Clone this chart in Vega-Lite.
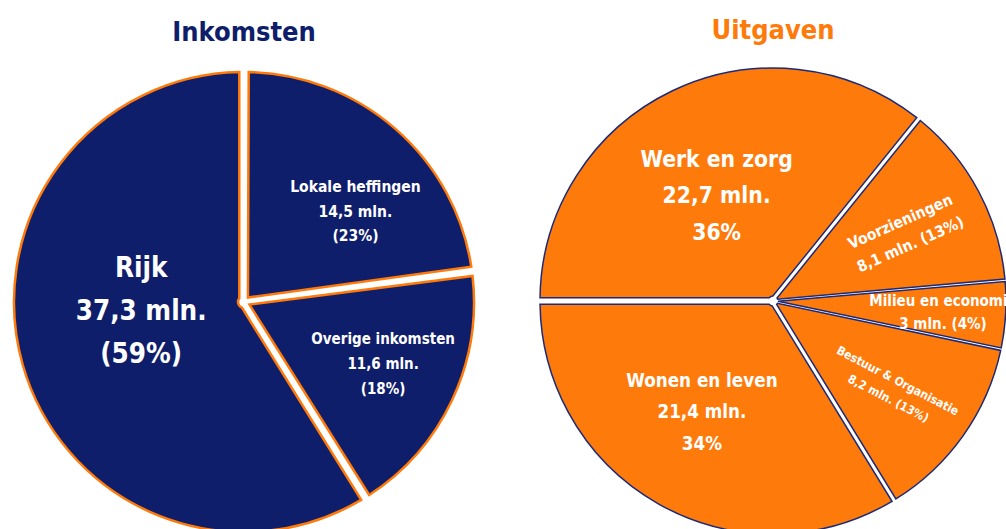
{
  "$schema": "https://vega.github.io/schema/vega-lite/v6.json",
  "padding": {"left": 0, "top": 17, "right": 0, "bottom": 0},
  "background": "white",
  "spacing": 49,
  "config": {
    "view": {"stroke": null},
    "font": "DejaVu Sans Condensed, Liberation Sans Narrow, Liberation Sans, sans-serif",
    "title": {"font": "DejaVu Sans Condensed, Liberation Sans Narrow, Liberation Sans, sans-serif", "fontSize": 27, "fontWeight": "bold", "baseline": "alphabetic", "offset": 20, "anchor": "middle"},
    "text": {"font": "DejaVu Sans Condensed, Liberation Sans Narrow, Liberation Sans, sans-serif", "fontWeight": "bold", "color": "white", "lineBreak": "\n"}
  },
  "datasets": {
    "inkomsten": [
      {"rank": 1, "cat": "Lokale heffingen", "value": 14.5, "label": "Lokale heffingen\n14,5 mln.\n(23%)"},
      {"rank": 2, "cat": "Overige inkomsten", "value": 11.6, "label": "Overige inkomsten\n11,6 mln.\n(18%)"},
      {"rank": 3, "cat": "Rijk", "value": 37.3, "label": "Rijk\n37,3 mln.\n(59%)"}
    ],
    "uitgaven": [
      {"rank": 1, "cat": "Werk en zorg", "value": 22.7, "label": "Werk en zorg\n22,7 mln.\n36%"},
      {"rank": 2, "cat": "Voorzieningen", "value": 8.1, "label": "Voorzieningen\n8,1 mln. (13%)"},
      {"rank": 3, "cat": "Milieu en economie", "value": 3, "label": "Milieu en economie\n3 mln. (4%)"},
      {"rank": 4, "cat": "Bestuur & Organisatie", "value": 8.2, "label": "Bestuur & Organisatie\n8,2 mln. (13%)"},
      {"rank": 5, "cat": "Wonen en leven", "value": 21.4, "label": "Wonen en leven\n21,4 mln.\n34%"}
    ]
  },
  "hconcat": [
    {
      "width": 488,
      "height": 460,
      "title": {"text": "Inkomsten", "color": "#0f1e6a"},
      "data": {"name": "inkomsten"},
      "encoding": {
        "theta": {"field": "value", "type": "quantitative", "stack": true},
        "order": {"field": "rank", "type": "quantitative"}
      },
      "layer": [
        {"mark": {"type": "arc", "radius": 230, "innerRadius": 6, "padAngle": 0.041, "fill": "#0f1e6a", "stroke": "#fe7a0b", "strokeWidth": 2.5}},
        {
          "mark": {"type": "text", "radius": 108, "thetaOffset": 0.588, "fontSize": 27.5, "lineHeight": 43},
          "encoding": {"text": {"field": "label"}, "opacity": {"condition": {"test": "datum.cat === 'Rijk'", "value": 1}, "value": 0}}
        },
        {
          "mark": {"type": "text", "radius": 160, "thetaOffset": 0.052, "fontSize": 15.5, "lineHeight": 24.5},
          "encoding": {"text": {"field": "label"}, "opacity": {"condition": {"test": "datum.cat === 'Lokale heffingen'", "value": 1}, "value": 0}}
        },
        {
          "mark": {"type": "text", "radius": 144, "thetaOffset": -0.18, "fontSize": 15, "lineHeight": 25},
          "encoding": {"text": {"field": "label"}, "opacity": {"condition": {"test": "datum.cat === 'Overige inkomsten'", "value": 1}, "value": 0}}
        }
      ]
    },
    {
      "width": 470,
      "height": 458,
      "title": {"text": "Uitgaven", "color": "#fe7a0b"},
      "data": {"name": "uitgaven"},
      "encoding": {
        "theta": {"field": "value", "type": "quantitative", "stack": true, "scale": {"range": [-1.5708, 4.7124]}},
        "order": {"field": "rank", "type": "quantitative"}
      },
      "layer": [
        {
          "mark": {"type": "arc", "radius": 233, "innerRadius": 5, "padAngle": 0.028, "fill": "#fe7a0b", "stroke": "#1a2a78", "strokeWidth": 1.5},
          "encoding": {"opacity": {"condition": {"test": "datum.cat === 'Werk en zorg' || datum.cat === 'Wonen en leven'", "value": 1}, "value": 0}}
        },
        {
          "mark": {"type": "arc", "radius": 233, "innerRadius": 5, "padAngle": 0.011, "fill": "#fe7a0b", "stroke": "#1a2a78", "strokeWidth": 1.5},
          "encoding": {"opacity": {"condition": {"test": "datum.cat === 'Werk en zorg' || datum.cat === 'Wonen en leven'", "value": 0}, "value": 1}}
        },
        {
          "mark": {"type": "text", "radius": 152, "thetaOffset": 0.066, "fontSize": 22.7, "lineHeight": 36.5},
          "encoding": {"text": {"field": "label"}, "opacity": {"condition": {"test": "datum.cat === 'Werk en zorg'", "value": 1}, "value": 0}}
        },
        {
          "mark": {"type": "text", "radius": 150, "thetaOffset": -0.066, "angle": -24, "fontSize": 15.5, "lineHeight": 25},
          "encoding": {"text": {"field": "label"}, "opacity": {"condition": {"test": "datum.cat === 'Voorzieningen'", "value": 1}, "value": 0}}
        },
        {
          "mark": {"type": "text", "radius": 170, "thetaOffset": -0.059, "fontSize": 15, "lineHeight": 23},
          "encoding": {"text": {"field": "label"}, "opacity": {"condition": {"test": "datum.cat === 'Milieu en economie'", "value": 1}, "value": 0}}
        },
        {
          "mark": {"type": "text", "radius": 148, "thetaOffset": -0.045, "angle": 27.5, "fontSize": 12, "lineHeight": 20},
          "encoding": {"text": {"field": "label"}, "opacity": {"condition": {"test": "datum.cat === 'Bestuur & Organisatie'", "value": 1}, "value": 0}}
        },
        {
          "mark": {"type": "text", "radius": 107, "thetaOffset": 0.216, "fontSize": 18.7, "lineHeight": 31.5},
          "encoding": {"text": {"field": "label"}, "opacity": {"condition": {"test": "datum.cat === 'Wonen en leven'", "value": 1}, "value": 0}}
        }
      ]
    }
  ]
}
